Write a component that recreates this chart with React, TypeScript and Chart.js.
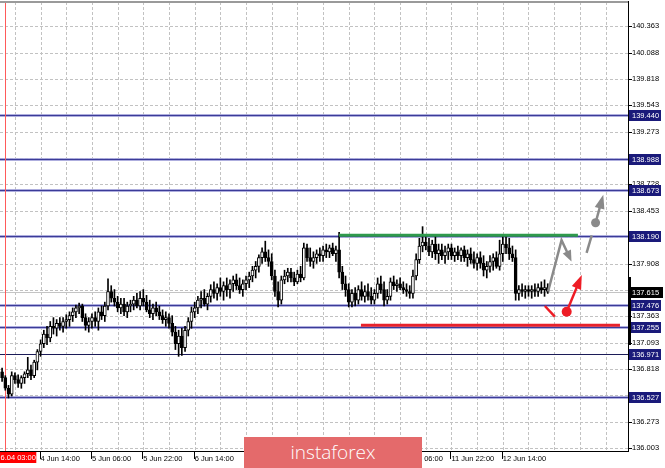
import React, { useEffect, useRef } from 'react';
import { Chart, registerables } from 'chart.js';

Chart.register(...registerables);

// ---- OHLC data (H1 bars, index 0 = first visible bar) ----
const openP = [
  136.79, 136.73, 136.62, 136.56, 136.75, 136.71, 136.67, 136.73, 136.77, 136.81,
  136.75, 136.89, 137.00, 137.08, 137.18, 137.14, 137.26, 137.24, 137.29, 137.26,
  137.31, 137.33, 137.37, 137.41, 137.45, 137.47, 137.35, 137.27, 137.31, 137.35,
  137.31, 137.41, 137.37, 137.47, 137.62, 137.55, 137.51, 137.45, 137.49, 137.41,
  137.47, 137.49, 137.53, 137.47, 137.55, 137.51, 137.43, 137.39, 137.45, 137.41,
  137.37, 137.33, 137.35, 137.29, 137.20, 137.08, 137.16, 137.04, 137.22, 137.31,
  137.41, 137.45, 137.53, 137.55, 137.49, 137.57, 137.64, 137.60, 137.66, 137.62,
  137.68, 137.64, 137.70, 137.74, 137.68, 137.64, 137.70, 137.74, 137.78, 137.84,
  137.88, 137.97, 138.03, 137.97, 137.93, 137.78, 137.62, 137.53, 137.74, 137.78,
  137.82, 137.76, 137.72, 137.80, 137.76, 138.07, 137.97, 137.93, 137.97, 138.01,
  137.99, 138.05, 138.03, 138.07, 138.01, 138.05, 137.82, 137.70, 137.64, 137.51,
  137.60, 137.53, 137.64, 137.57, 137.62, 137.57, 137.53, 137.60, 137.70, 137.64,
  137.53, 137.57, 137.72, 137.68, 137.70, 137.66, 137.64, 137.62, 137.60, 137.78,
  137.95, 138.09, 138.13, 138.09, 138.03, 138.11, 138.01, 138.05, 137.99, 138.03,
  138.07, 137.99, 138.03, 137.99, 138.05, 137.97, 138.01, 137.95, 137.91, 137.97,
  137.91, 137.84, 137.88, 137.93, 137.97, 137.88, 138.01, 138.11, 138.07, 138.01,
  137.97, 137.60, 137.64, 137.62, 137.64, 137.62, 137.64, 137.62, 137.66, 137.64, 137.66,
];
const highP = [
  136.83, 136.75, 136.65, 136.79, 136.78, 136.76, 136.75, 136.79, 136.94, 136.86,
  136.91, 137.02, 137.12, 137.22, 137.26, 137.31, 137.35, 137.33, 137.35, 137.35,
  137.38, 137.41, 137.45, 137.48, 137.50, 137.49, 137.39, 137.35, 137.39, 137.41,
  137.45, 137.47, 137.51, 137.75, 137.68, 137.64, 137.57, 137.55, 137.55, 137.51,
  137.53, 137.57, 137.60, 137.62, 137.64, 137.58, 137.53, 137.49, 137.51, 137.47,
  137.43, 137.41, 137.39, 137.37, 137.26, 137.22, 137.24, 137.26, 137.35, 137.46,
  137.51, 137.57, 137.62, 137.64, 137.60, 137.69, 137.72, 137.70, 137.76, 137.72,
  137.76, 137.74, 137.78, 137.80, 137.76, 137.74, 137.78, 137.82, 137.88, 137.93,
  138.00, 138.07, 138.14, 138.05, 138.01, 137.84, 137.72, 137.78, 137.84, 137.86,
  137.86, 137.82, 137.84, 137.88, 138.12, 138.11, 138.07, 138.03, 138.05, 138.07,
  138.09, 138.11, 138.10, 138.12, 138.09, 138.23, 137.88, 137.78, 137.70, 137.64,
  137.66, 137.68, 137.72, 137.68, 137.70, 137.66, 137.64, 137.76, 137.78, 137.72,
  137.64, 137.76, 137.78, 137.74, 137.76, 137.72, 137.70, 137.68, 137.84, 138.01,
  138.17, 138.29, 138.19, 138.17, 138.15, 138.19, 138.11, 138.11, 138.09, 138.11,
  138.11, 138.07, 138.09, 138.07, 138.09, 138.05, 138.07, 138.03, 138.01, 138.03,
  137.99, 137.93, 137.99, 138.01, 138.03, 138.15, 138.19, 138.19, 138.17, 138.09,
  138.05, 137.68, 137.70, 137.68, 137.68, 137.68, 137.70, 137.70, 137.72, 137.74, 137.70,
];
const lowP = [
  136.69, 136.60, 136.52, 136.54, 136.67, 136.63, 136.62, 136.67, 136.73, 136.71,
  136.73, 136.81, 136.95, 137.04, 137.07, 137.10, 137.18, 137.16, 137.22, 137.20,
  137.24, 137.26, 137.31, 137.35, 137.39, 137.31, 137.22, 137.20, 137.24, 137.26,
  137.22, 137.33, 137.31, 137.43, 137.51, 137.47, 137.41, 137.39, 137.37, 137.35,
  137.41, 137.43, 137.45, 137.43, 137.47, 137.41, 137.35, 137.33, 137.37, 137.33,
  137.29, 137.26, 137.24, 137.16, 137.02, 136.95, 136.96, 137.00, 137.16, 137.24,
  137.35, 137.39, 137.45, 137.47, 137.43, 137.51, 137.55, 137.53, 137.57, 137.53,
  137.57, 137.55, 137.62, 137.64, 137.60, 137.57, 137.64, 137.66, 137.72, 137.76,
  137.82, 137.91, 137.93, 137.88, 137.74, 137.57, 137.46, 137.49, 137.70, 137.72,
  137.72, 137.68, 137.70, 137.72, 137.74, 137.93, 137.88, 137.86, 137.91, 137.93,
  137.93, 137.97, 137.97, 137.99, 137.93, 137.76, 137.64, 137.57, 137.46, 137.46,
  137.47, 137.49, 137.53, 137.51, 137.53, 137.49, 137.49, 137.55, 137.60, 137.47,
  137.49, 137.53, 137.64, 137.62, 137.64, 137.60, 137.57, 137.55, 137.55, 137.74,
  137.91, 138.03, 138.05, 137.99, 137.97, 137.95, 137.91, 137.95, 137.91, 137.95,
  137.95, 137.93, 137.95, 137.93, 137.93, 137.88, 137.91, 137.86, 137.84, 137.86,
  137.78, 137.76, 137.82, 137.84, 137.86, 137.84, 137.93, 138.01, 137.95, 137.93,
  137.53, 137.53, 137.57, 137.55, 137.57, 137.55, 137.57, 137.57, 137.60, 137.57, 137.60,
];
const closeP = [
  136.73, 136.62, 136.56, 136.75, 136.71, 136.67, 136.73, 136.77, 136.81, 136.75,
  136.89, 137.00, 137.08, 137.18, 137.14, 137.26, 137.24, 137.29, 137.26, 137.31,
  137.33, 137.37, 137.41, 137.45, 137.47, 137.35, 137.27, 137.31, 137.35, 137.31,
  137.41, 137.37, 137.47, 137.62, 137.55, 137.51, 137.45, 137.49, 137.41, 137.47,
  137.49, 137.53, 137.47, 137.55, 137.51, 137.43, 137.39, 137.45, 137.41, 137.37,
  137.33, 137.35, 137.29, 137.20, 137.08, 137.16, 137.04, 137.22, 137.31, 137.41,
  137.45, 137.53, 137.55, 137.49, 137.57, 137.64, 137.60, 137.66, 137.62, 137.68,
  137.64, 137.70, 137.74, 137.68, 137.64, 137.70, 137.74, 137.78, 137.84, 137.88,
  137.97, 138.03, 137.97, 137.93, 137.78, 137.62, 137.53, 137.74, 137.78, 137.82,
  137.76, 137.72, 137.80, 137.76, 138.07, 137.97, 137.93, 137.97, 138.01, 137.99,
  138.05, 138.03, 138.07, 138.01, 138.05, 137.82, 137.70, 137.64, 137.51, 137.60,
  137.53, 137.64, 137.57, 137.62, 137.57, 137.53, 137.60, 137.70, 137.64, 137.53,
  137.57, 137.72, 137.68, 137.70, 137.66, 137.64, 137.62, 137.60, 137.78, 137.95,
  138.09, 138.13, 138.09, 138.03, 138.11, 138.01, 138.05, 137.99, 138.03, 138.07,
  137.99, 138.03, 137.99, 138.05, 137.97, 138.01, 137.95, 137.91, 137.97, 137.91,
  137.84, 137.88, 137.93, 137.97, 137.88, 138.01, 138.11, 138.07, 138.01, 137.97,
  137.60, 137.64, 137.62, 137.64, 137.62, 137.64, 137.62, 137.66, 137.64, 137.66, 137.62,
];

// ---- axes ----
const yTickValues = [
  140.363, 140.088, 139.818, 139.543, 139.273, 138.998, 138.728, 138.453, 138.178,
  137.908, 137.633, 137.363, 137.093, 136.818, 136.548, 136.273, 136.003,
];
const xGridIndex = [4, 12, 20, 28, 36, 44, 52, 60, 68, 76, 84, 92, 100, 108, 116, 124, 132, 140, 148, 156, 164, 172, 180, 188];
const xLabelIndex = [12, 28, 44, 60, 76, 92, 108, 124, 140, 156];
const xLabelText = [
  '4 Jun 14:00', '5 Jun 06:00', '5 Jun 22:00', '6 Jun 14:00', '9 Jun 06:00',
  '9 Jun 22:00', '10 Jun 14:00', '11 Jun 06:00', '11 Jun 22:00', '12 Jun 14:00',
];
const markerIndex = 1; // vertical red line
const markerLabel = '6.04 03:00';

// ---- levels & drawings (bar index, price) ----
const levelValues = [139.44, 138.988, 138.673, 138.19, 137.476, 137.255, 136.971, 136.527];
const levelLabels = ['139.440', '138.988', '138.673', '138.190', '137.476', '137.255', '136.971', '136.527'];
const darkLevel = 136.971;
const currentPrice = 137.615;
const currentLabel = '137.615';

const greenLine = { from: 105, to: 179.4, price: 138.2 };
const redLine = { from: 111.8, to: 192.5, price: 137.27 };

const grayPathX = [170.1, 174.3, 177.4];
const grayPathY = [137.62, 138.15, 137.93];
const grayDashX = [182.1, 183.7];
const grayDashY = [138.02, 138.2];
const grayArrowX = [184.9, 187.3];
const grayArrowY = [138.33, 138.62];
const redDashX = [169.1, 172.2];
const redDashY = [137.47, 137.36];
const redArrowX = [175.9, 180.6];
const redArrowY = [137.41, 137.79];

const FONT = '"Liberation Sans", Arial, sans-serif';
const AREA = { left: 0, top: 2, right: 628, bottom: 451 };

function arrowHead(ctx: CanvasRenderingContext2D, x0: number, y0: number, x1: number, y1: number, len: number, w: number) {
  const ang = Math.atan2(y1 - y0, x1 - x0);
  const bx = x1 - len * Math.cos(ang);
  const by = y1 - len * Math.sin(ang);
  ctx.beginPath();
  ctx.moveTo(x1, y1);
  ctx.lineTo(bx + (w / 2) * Math.sin(ang), by - (w / 2) * Math.cos(ang));
  ctx.lineTo(bx - (w / 2) * Math.sin(ang), by + (w / 2) * Math.cos(ang));
  ctx.closePath();
  ctx.fill();
}

const overlayPlugin = {
  id: 'overlay',
  beforeDatasetsDraw(chart: any) {
    const { ctx, chartArea: a, scales } = chart;
    const x = scales.x, y = scales.y;
    ctx.save();
    // dashed grid
    ctx.strokeStyle = '#c2c2c2';
    ctx.lineWidth = 1;
    ctx.setLineDash([3, 2]);
    xGridIndex.forEach((v) => {
      const gx = Math.round(x.getPixelForValue(v)) + 0.5;
      ctx.beginPath();
      ctx.moveTo(gx, a.top);
      ctx.lineTo(gx, a.bottom);
      ctx.stroke();
    });
    yTickValues.forEach((v) => {
      const gy = Math.round(y.getPixelForValue(v)) + 0.5;
      ctx.beginPath();
      ctx.moveTo(a.left, gy);
      ctx.lineTo(a.right, gy);
      ctx.stroke();
    });
    ctx.setLineDash([]);
    // tick marks
    ctx.strokeStyle = '#000';
    yTickValues.forEach((v) => {
      const gy = Math.round(y.getPixelForValue(v)) + 0.5;
      ctx.beginPath();
      ctx.moveTo(a.right, gy);
      ctx.lineTo(a.right + 4, gy);
      ctx.stroke();
    });
    xLabelIndex.forEach((v) => {
      const gx = Math.round(x.getPixelForValue(v)) - 0.5;
      ctx.beginPath();
      ctx.moveTo(gx, a.bottom + 1);
      ctx.lineTo(gx, a.bottom + 8);
      ctx.stroke();
    });

    ctx.beginPath();
    ctx.rect(a.left, a.top, a.right - a.left, a.bottom - a.top);
    ctx.clip();
    const cy = Math.round(y.getPixelForValue(currentPrice)) + 0.5;
    ctx.strokeStyle = '#c4c4c4';
    ctx.lineWidth = 1;
    ctx.beginPath();
    ctx.moveTo(a.left, cy);
    ctx.lineTo(a.right, cy);
    ctx.stroke();
    levelValues.forEach((v) => {
      const py = Math.round(y.getPixelForValue(v));
      if (v === darkLevel) {
        ctx.strokeStyle = '#1c1c58';
        ctx.lineWidth = 1;
        ctx.beginPath();
        ctx.moveTo(a.left, py + 0.5);
        ctx.lineTo(a.right, py + 0.5);
        ctx.stroke();
      } else {
        ctx.strokeStyle = 'rgba(165,165,218,0.9)';
        ctx.lineWidth = 3;
        ctx.beginPath();
        ctx.moveTo(a.left, py + 0.5);
        ctx.lineTo(a.right, py + 0.5);
        ctx.stroke();
        ctx.strokeStyle = '#3b3b98';
        ctx.lineWidth = 1;
        ctx.beginPath();
        ctx.moveTo(a.left, py + 0.5);
        ctx.lineTo(a.right, py + 0.5);
        ctx.stroke();
      }
    });
    const mx = Math.round(x.getPixelForValue(markerIndex)) + 0.5;
    ctx.strokeStyle = '#ff5a5a';
    ctx.lineWidth = 1;
    ctx.beginPath();
    ctx.moveTo(mx, a.top);
    ctx.lineTo(mx, a.bottom);
    ctx.stroke();
    ctx.restore();
  },
  afterDatasetsDraw(chart: any) {
    const { ctx, scales } = chart;
    const x = scales.x, y = scales.y;
    const px = (v: number) => x.getPixelForValue(v);
    const py = (v: number) => y.getPixelForValue(v);
    ctx.save();
    ctx.lineCap = 'butt';
    ctx.strokeStyle = '#2f9a4c';
    ctx.lineWidth = 3;
    ctx.beginPath();
    ctx.moveTo(px(greenLine.from), py(greenLine.price));
    ctx.lineTo(px(greenLine.to), py(greenLine.price));
    ctx.stroke();
    ctx.strokeStyle = '#e8222b';
    ctx.beginPath();
    ctx.moveTo(px(redLine.from), py(redLine.price));
    ctx.lineTo(px(redLine.to), py(redLine.price));
    ctx.stroke();

    const gray = '#8a8a8a';
    ctx.strokeStyle = gray;
    ctx.fillStyle = gray;
    ctx.lineWidth = 2.5;
    ctx.beginPath();
    grayPathX.forEach((v, k) => {
      const X = px(v), Y = py(grayPathY[k]);
      if (k === 0) ctx.moveTo(X, Y);
      else if (k === grayPathX.length - 1) {
        const pX = px(grayPathX[k - 1]), pY = py(grayPathY[k - 1]);
        const ang = Math.atan2(Y - pY, X - pX);
        ctx.lineTo(X - 8 * Math.cos(ang), Y - 8 * Math.sin(ang));
      } else ctx.lineTo(X, Y);
    });
    ctx.stroke();
    {
      const n = grayPathX.length;
      arrowHead(ctx, px(grayPathX[n - 2]), py(grayPathY[n - 2]), px(grayPathX[n - 1]), py(grayPathY[n - 1]), 11, 9);
    }
    ctx.beginPath();
    ctx.moveTo(px(grayDashX[0]), py(grayDashY[0]));
    ctx.lineTo(px(grayDashX[1]), py(grayDashY[1]));
    ctx.stroke();
    {
      const x0 = px(grayArrowX[0]), y0 = py(grayArrowY[0]);
      const x1 = px(grayArrowX[1]), y1 = py(grayArrowY[1]);
      ctx.beginPath();
      ctx.arc(x0, y0, 4.5, 0, Math.PI * 2);
      ctx.fill();
      const ang = Math.atan2(y1 - y0, x1 - x0);
      ctx.beginPath();
      ctx.moveTo(x0, y0);
      ctx.lineTo(x1 - 9 * Math.cos(ang), y1 - 9 * Math.sin(ang));
      ctx.stroke();
      arrowHead(ctx, x0, y0, x1, y1, 14, 10);
    }
    const red = '#ee1c25';
    ctx.strokeStyle = red;
    ctx.fillStyle = red;
    ctx.lineWidth = 2.5;
    ctx.beginPath();
    ctx.moveTo(px(redDashX[0]), py(redDashY[0]));
    ctx.lineTo(px(redDashX[1]), py(redDashY[1]));
    ctx.stroke();
    {
      const x0 = px(redArrowX[0]), y0 = py(redArrowY[0]);
      const x1 = px(redArrowX[1]), y1 = py(redArrowY[1]);
      ctx.beginPath();
      ctx.arc(x0, y0, 5, 0, Math.PI * 2);
      ctx.fill();
      const ang = Math.atan2(y1 - y0, x1 - x0);
      ctx.beginPath();
      ctx.moveTo(x0, y0);
      ctx.lineTo(x1 - 9 * Math.cos(ang), y1 - 9 * Math.sin(ang));
      ctx.stroke();
      arrowHead(ctx, x0, y0, x1, y1, 14, 10);
    }
    ctx.restore();
  },
  afterDraw(chart: any) {
    const { ctx, chartArea: a, scales } = chart;
    const x = scales.x, y = scales.y;
    ctx.save();
    ctx.fillStyle = '#9a9a9a';
    ctx.fillRect(0, 1, a.right, 2);
    ctx.fillStyle = '#000';
    ctx.fillRect(a.right, 1, 1, a.bottom - 1);
    ctx.fillRect(0, a.bottom, a.right + 1, 1);
    ctx.font = `7.5px ${FONT}`;
    ctx.textBaseline = 'middle';
    ctx.textAlign = 'left';
    levelValues.forEach((v, k) => {
      const py = Math.round(y.getPixelForValue(v));
      ctx.fillStyle = '#1a1a7a';
      ctx.fillRect(a.right + 1, py - 5, 32, 11);
      ctx.fillStyle = '#fff';
      ctx.fillText(levelLabels[k], a.right + 4, py + 0.5);
    });
    {
      const py = Math.round(y.getPixelForValue(currentPrice));
      ctx.fillStyle = '#000';
      ctx.fillRect(a.right + 1, py - 5, 34, 11);
      ctx.fillStyle = '#fff';
      ctx.fillText(currentLabel, a.right + 4, py + 0.5);
    }
    ctx.fillStyle = '#000';
    ctx.fillRect(a.right, 277, 3, 68);
    const mx = x.getPixelForValue(markerIndex);
    ctx.fillStyle = '#ff0000';
    ctx.fillRect(0, a.bottom + 1, Math.max(mx + 31, 36), 11);
    ctx.fillStyle = '#fff';
    ctx.fillText(markerLabel, 0.5, a.bottom + 6.5);
    ctx.restore();
  },
};

export default function App() {
  const ref = useRef<HTMLCanvasElement>(null);
  useEffect(() => {
    document.body.style.margin = '0';
    const idx = openP.map((_, i) => i);
    const bodyColors = idx.map((i) => (closeP[i] >= openP[i] ? '#ffffff' : '#000000'));
    const chart = new Chart(ref.current as HTMLCanvasElement, {
      type: 'bar',
      data: {
        datasets: [
          {
            label: 'body',
            data: idx.map((i) => ({ x: i, y: [openP[i], closeP[i]] })) as any,
            backgroundColor: bodyColors,
            borderColor: '#000',
            borderWidth: 1,
            borderSkipped: false,
            barThickness: 3,
            grouped: false,
            order: 1,
          } as any,
          {
            label: 'wick',
            data: idx.map((i) => ({ x: i, y: [lowP[i], highP[i]] })) as any,
            backgroundColor: '#000',
            barThickness: 1,
            grouped: false,
            order: 2,
          } as any,
        ],
      },
      options: {
        responsive: false,
        maintainAspectRatio: false,
        animation: false,
        devicePixelRatio: 1,
        events: [],
        layout: { padding: { top: 2, left: 0, right: 0, bottom: 0 }, autoPadding: false },
        plugins: { legend: { display: false }, tooltip: { enabled: false } },
        scales: {
          x: {
            type: 'linear',
            position: 'bottom',
            offset: false,
            min: -0.65,
            max: 195,
            afterBuildTicks: (s: any) => {
              s.ticks = xGridIndex.map((v) => ({ value: v }));
            },
            afterFit: (s: any) => {
              s.height = 17;
              s.paddingLeft = 0;
              s.paddingRight = 0;
            },
            border: { display: false },
            grid: { offset: false, drawOnChartArea: false, drawTicks: false },
            ticks: {
              autoSkip: false,
              maxRotation: 0,
              minRotation: 0,
              align: 'start',
              padding: 3,
              color: '#000',
              font: { family: FONT, size: 7.5 },
              callback: (v: any) => {
                const k = xLabelIndex.indexOf(Number(v));
                return k >= 0 ? xLabelText[k] : '';
              },
            },
          } as any,
          y: {
            type: 'linear',
            position: 'right',
            min: 135.972,
            max: 140.611,
            afterBuildTicks: (s: any) => {
              s.ticks = yTickValues.map((v) => ({ value: v }));
            },
            afterFit: (s: any) => {
              s.width = 37;
              s.paddingTop = 0;
              s.paddingBottom = 0;
            },
            border: { display: false },
            grid: { drawOnChartArea: false, drawTicks: false },
            ticks: {
              padding: 4,
              color: '#000',
              font: { family: FONT, size: 7.5 },
              callback: (v: any) => Number(v).toFixed(3),
            },
          } as any,
        },
      },
      plugins: [
        {
          id: 'fixArea',
          afterLayout(chart: any) {
            const a = chart.chartArea;
            const sx = chart.scales.x, sy = chart.scales.y;
            if (a.left !== AREA.left || a.right !== AREA.right) {
              a.left = AREA.left; a.right = AREA.right;
              sx.left = AREA.left; sx.right = AREA.right; sx.width = AREA.right - AREA.left;
              sx.configure();
            }
            if (a.top !== AREA.top || a.bottom !== AREA.bottom) {
              a.top = AREA.top; a.bottom = AREA.bottom;
              sy.top = AREA.top; sy.bottom = AREA.bottom; sy.height = AREA.bottom - AREA.top;
              sy.configure();
            }
          },
        },
        overlayPlugin,
      ],
    });
    return () => chart.destroy();
  }, []);

  return (
    <div style={{ position: 'absolute', left: 0, top: 0, width: 665, height: 468, overflow: 'hidden', background: '#fff' }}>
      <canvas ref={ref} width={665} height={468} style={{ display: 'block', width: 665, height: 468 }} />
      <div
        style={{
          position: 'absolute',
          left: 244,
          top: 437,
          width: 178,
          height: 31,
          background: '#e46a6b',
          color: '#fff',
          fontFamily: '"Open Sans", sans-serif',
          fontWeight: 300,
          fontSize: 19,
          lineHeight: '30px',
          textAlign: 'center',
        }}
      >
        instaforex
      </div>
    </div>
  );
}
